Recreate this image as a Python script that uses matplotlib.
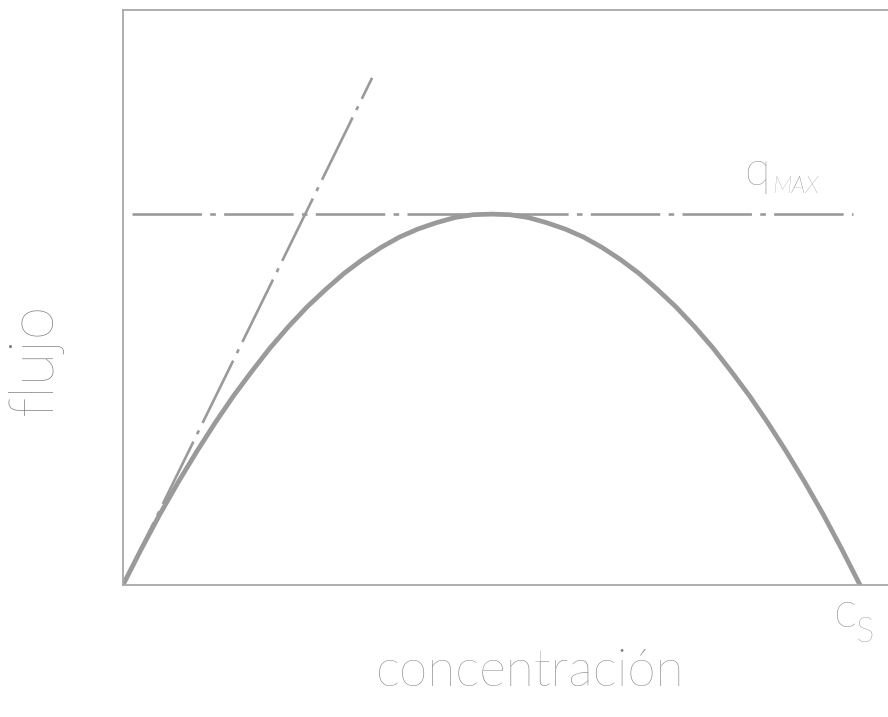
import matplotlib
matplotlib.use('Agg')
import matplotlib.pyplot as plt

plt.rcParams['lines.scale_dashes'] = False

# curva flujo-concentración (Greenshields), leída por puntos
conc = [0.0, 0.025, 0.05, 0.075, 0.10, 0.125, 0.15, 0.175, 0.20, 0.225,
        0.25, 0.275, 0.30, 0.325, 0.35, 0.375, 0.40, 0.425, 0.45, 0.475,
        0.50, 0.525, 0.55, 0.575, 0.60, 0.625, 0.65, 0.675, 0.70, 0.725,
        0.75, 0.775, 0.80, 0.825, 0.85, 0.875, 0.90, 0.925, 0.95, 0.975, 1.0]
flujo = [0.0, 0.063, 0.123, 0.179, 0.232, 0.282, 0.329, 0.372, 0.413, 0.450,
         0.484, 0.514, 0.542, 0.566, 0.587, 0.605, 0.619, 0.630, 0.639, 0.644,
         0.645, 0.644, 0.639, 0.630, 0.619, 0.605, 0.587, 0.566, 0.542, 0.514,
         0.484, 0.450, 0.413, 0.372, 0.329, 0.282, 0.232, 0.179, 0.123, 0.063, 0.0]

# tangente en el origen
tang_x = [0.0, 0.338]
tang_y = [0.0, 0.882]

# flujo máximo
q_max = 0.645
qmax_x = [0.012, 0.99]

gris = '#9a9a9a'
gris_txt = '#7e7e7e'
fuente = 'Lato'

fig = plt.figure(figsize=(8.88, 7.17), dpi=100)
ax = fig.add_axes([123 / 888, 132 / 717, 765 / 888, 575 / 717])

ax.plot(conc, flujo, color=gris, lw=3.4, solid_joinstyle='round', solid_capstyle='round')

l1, = ax.plot(tang_x, tang_y, color=gris, lw=1.9)
l1.set_dashes([50, 6, 3, 6])
l2, = ax.plot(qmax_x, [q_max, q_max], color=gris, lw=1.9)
l2.set_dashes([50, 6, 4, 6])

ax.set_xlim(0, 765 / 737)
ax.set_ylim(0, 1)
ax.set_xticks([])
ax.set_yticks([])
ax.spines['right'].set_visible(False)
for s in ['left', 'bottom', 'top']:
    ax.spines[s].set_color('#a8a8a8')
    ax.spines[s].set_linewidth(1.3)

# etiquetas
ax.text(0.843, 0.696, 'q', color=gris_txt, fontsize=34, family=fuente,
        weight='light', ha='left', va='baseline')
ax.text(0.881, 0.682, 'MAX', color=gris_txt, fontsize=17, family=fuente,
        weight='light', style='italic', ha='left', va='baseline')
ax.text(0.965, -0.073, 'c', color=gris_txt, fontsize=36, family=fuente,
        weight='light', ha='left', va='baseline')
ax.text(0.993, -0.099, 'S', color=gris_txt, fontsize=25, family=fuente,
        weight='light', ha='left', va='baseline')

fig.text(530 / 888, 1 - 672 / 717, 'concentración', color=gris_txt, fontsize=37,
         family=fuente, weight='light', ha='center', va='center')
fig.text(35 / 888, 1 - 360 / 717, 'flujo', color=gris_txt, fontsize=44,
         family=fuente, weight='light', rotation=90, ha='center', va='center')

fig.savefig('out.png', dpi=100)
